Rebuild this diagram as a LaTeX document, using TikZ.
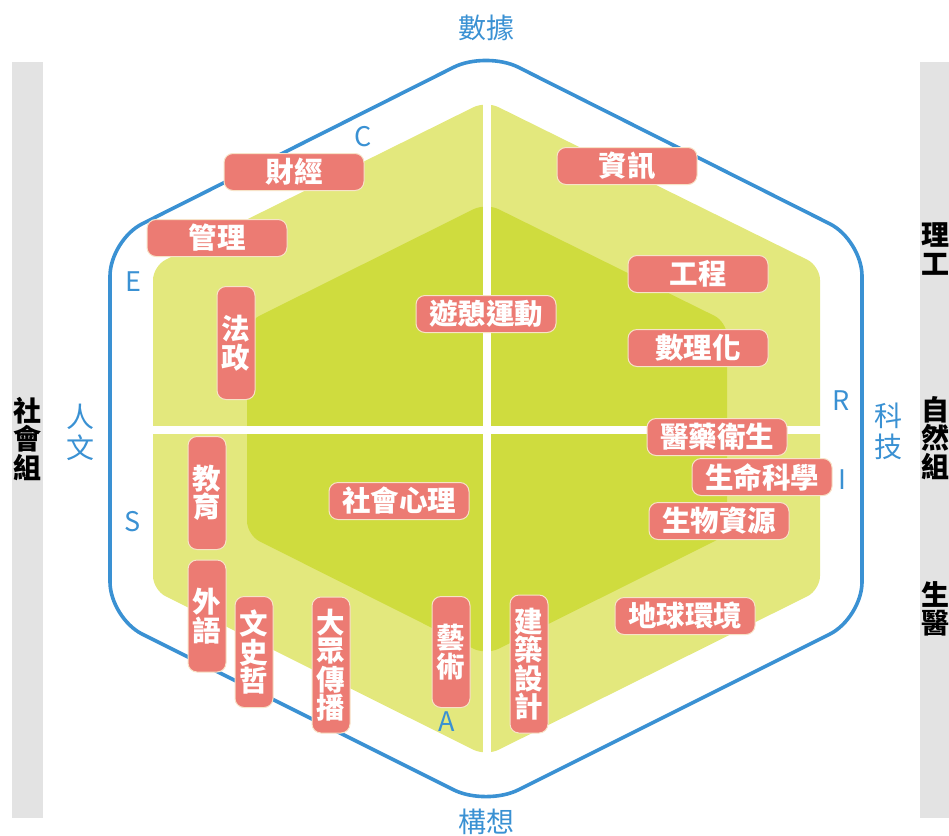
\documentclass[tikz,border=0pt]{standalone}
\usepackage{fontspec}
\newfontfamily\cjk{Noto Sans CJK TC}
\definecolor{hexblue}{HTML}{3A91D3}
\definecolor{lightg}{HTML}{E3E87D}
\definecolor{darkg}{HTML}{CFDC3E}
\definecolor{salmon}{HTML}{EC7B73}
\definecolor{labedge}{HTML}{F7E3C8}
\definecolor{barg}{HTML}{E3E3E3}
\tikzset{
  lab/.style={rectangle, rounded corners=9pt, fill=salmon, draw=labedge, line width=1pt,
    text=white, font=\cjk\bfseries\fontsize{28.5}{28.5}\selectfont, inner sep=0pt, align=center},
  hlab/.style={lab, minimum width=140pt, minimum height=37pt},
  vlab/.style={lab, minimum width=38pt},
  bluetxt/.style={text=hexblue, font=\cjk\fontsize{28}{31}\selectfont, inner sep=0pt, align=center},
  letter/.style={text=hexblue, font=\cjk\fontsize{27}{27}\selectfont, inner sep=0pt},
  bartxt/.style={text=black, font=\cjk\bfseries\fontsize{28}{28.5}\selectfont, inner sep=0pt, align=center},
}
\begin{document}
\begin{tikzpicture}[x=1pt, y=-1pt]
\useasboundingbox (0,0) rectangle (949,835);
% side bars
\fill[barg] (12,62) rectangle (43,818);
\fill[barg] (920,62) rectangle (949,818);
% outer blue hexagon
\draw[hexblue, line width=3.6pt, rounded corners=36pt]
  (486,51) -- (862,240) -- (862,618) -- (486,806) -- (110,618) -- (110,240) -- cycle;
% light green hexagon
\fill[lightg, rounded corners=14pt]
  (486,101) -- (820,266) -- (820,590) -- (486,756) -- (153,590) -- (153,266) -- cycle;
% dark green hexagon
\fill[darkg, rounded corners=14pt]
  (486,203) -- (727,322) -- (727,535) -- (486,655) -- (247,535) -- (247,322) -- cycle;
% white cross
\fill[white] (483,90) rectangle (491,770);
\fill[white] (145,426) rectangle (828,434);
% axis texts
\node[bluetxt] (shuju) at (486,28) {數據};
\node[bluetxt] (gouxiang) at (486,822) {構想};
\node[bluetxt] (renwen) at (80,432) {人\\文};
\node[bluetxt] (keji) at (888,431) {科\\技};
% letters
\node[letter] (lc) at (363,137) {C};
\node[letter] (le) at (133,282) {E};
\node[letter] (ls) at (133,522) {S};
\node[letter] (la) at (447,722) {A};
\node[letter] (lr) at (841,401) {R};
\node[letter] (li) at (842,480) {I};
% bar texts
\node[bartxt] (shehuizu) at (27,439) {社\\會\\組};
\node[bartxt] (ligong) at (935,249) {理\\工};
\node[bartxt] (ziranzu) at (935,438) {自\\然\\組};
\node[bartxt] (shengyi) at (935,609) {生\\醫};
% labels
\node[hlab] (caijing) at (294,172) {財經};
\node[hlab] (guanli) at (217,238) {管理};
\node[vlab, minimum height=113pt] (fazheng) at (236,343) {法\\政};
\node[hlab] (youqi) at (486,314) {遊憩運動};
\node[hlab] (zixun) at (627,166) {資訊};
\node[hlab] (gongcheng) at (698,274) {工程};
\node[hlab] (shulihua) at (698,348) {數理化};
\node[hlab] (yiyao) at (717,437) {醫藥衛生};
\node[hlab] (shengming) at (762,477) {生命科學};
\node[hlab] (shengwu) at (719,521) {生物資源};
\node[hlab] (diqiu) at (685,616) {地球環境};
\node[vlab, minimum height=138pt] (jianzhu) at (529,664) {建\\築\\設\\計};
\node[vlab, minimum height=113pt] (jiaoyu) at (207,493) {教\\育};
\node[vlab, minimum height=112pt] (waiyu) at (207,616) {外\\語};
\node[vlab, minimum height=111pt] (wenshizhe) at (254,652) {文\\史\\哲};
\node[vlab, minimum height=136pt] (dazhong) at (331,665) {大\\眾\\傳\\播};
\node[vlab, minimum height=111pt] (yishu) at (451,652) {藝\\術};
\node[hlab] (shehui) at (399,501) {社會心理};
\end{tikzpicture}
\end{document}
